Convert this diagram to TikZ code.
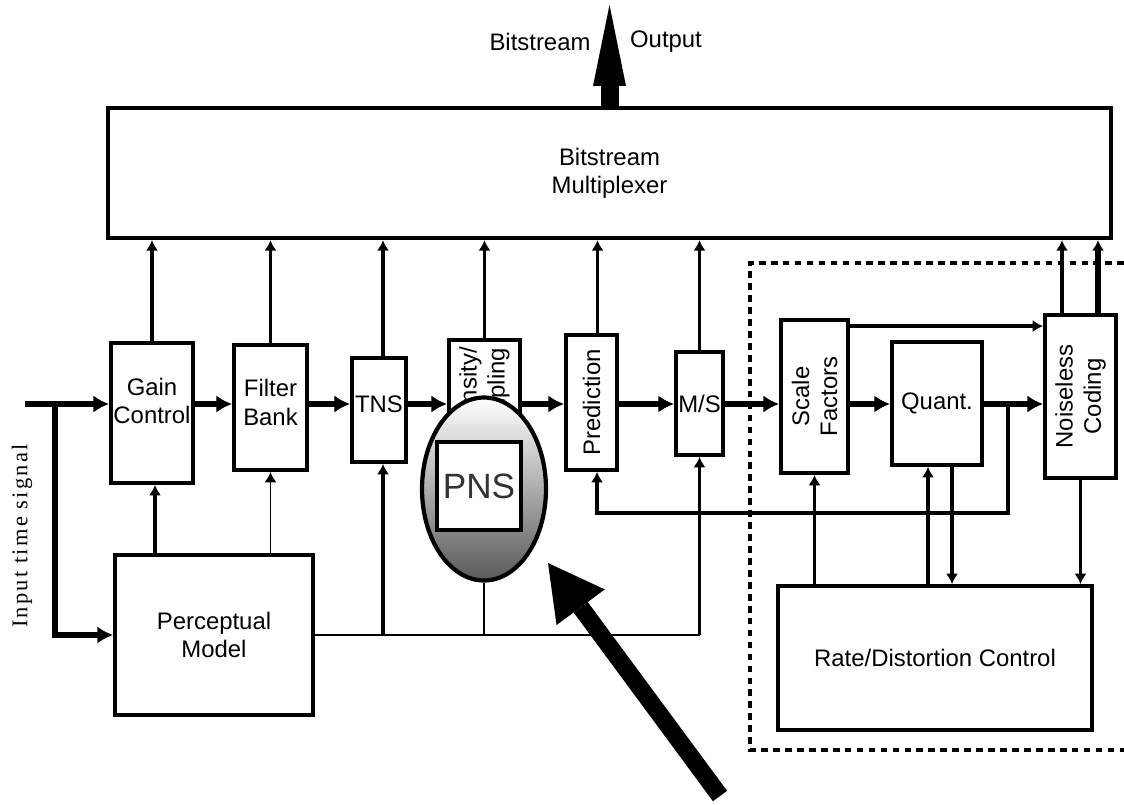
\documentclass[tikz,border=0pt]{standalone}
\usepackage{fontspec}
\setmainfont{Liberation Sans}
\newfontfamily\serifschrift[LetterSpace=10]{Liberation Serif}
\usetikzlibrary{arrows.meta,shapes.geometric}

\begin{document}
\begin{tikzpicture}[
		x=0.02cm, y=-0.02cm,
		font=\fontsize{13.6}{16}\selectfont,
		blk/.style={draw, line width=2.2pt, inner sep=0pt, align=center, fill=white},
		sig/.style={-{Latex[length=9pt,width=10pt]}, line width=3.6pt},
		arr/.style={-{Latex[length=6pt,width=7pt]}, line width=2pt},
		fine/.style={line width=1pt},
	]
		\useasboundingbox (0,0) rectangle (1124,804);

		% Rahmen Quantisierung/Codierung
		\draw[line width=2.8pt, dash pattern=on 3.8pt off 3pt] (1124,263) -- (750,263) -- (750,750) -- (1124,750);

		% Multiplexer mit Ausgang
		\node[blk, line width=2.5pt, minimum width=20.06cm, minimum height=2.6cm] (mux) at (609.5,173)
			{Bitstream\\Multiplexer};
		\coordinate (out) at (609.5,5);
		\draw[line width=0.36cm, -{Triangle[length=1.62cm,width=0.66cm,line width=0pt]}] (mux.north) -- (out);
		\node (bsl) at (540,42) {Bitstream};
		\node (outl) at (666,42) {Output};

		% Verarbeitungsbloecke
		\node[blk, minimum width=1.64cm, minimum height=2.8cm,
			label={[align=center, yshift=0.24cm]center:Gain\\Control}] (gain) at (152,413) {};
		\node[blk, minimum width=1.46cm, minimum height=2.5cm,
			label={[align=center, yshift=0.1cm]center:Filter\\Bank}] (filt) at (270.5,407.5) {};
		\node[blk, minimum width=1.08cm, minimum height=2.08cm,
			label={[yshift=0.12cm]center:TNS}] (tns) at (379,410) {};
		\node[blk, minimum width=1.42cm, minimum height=2.4cm] (ic) at (484.5,400) {};
		\node[rotate=90, anchor=east, align=center] (icl) at ([yshift=-0.06cm]ic.north) {Intensity/\\Coupling};
		\node[blk, minimum width=1.02cm, minimum height=2.7cm,
			label={[rotate=90]center:Prediction}] (pred) at (591.5,402.5) {};
		\node[blk, minimum width=0.94cm, minimum height=2.06cm] (ms) at (699.5,403.5) {M/S};
		\node[blk, minimum width=1.34cm, minimum height=3.06cm,
			label={[rotate=90, align=center]center:Scale\\Factors}] (sf) at (814.5,396.5) {};
		\node[blk, minimum width=1.8cm, minimum height=2.46cm] (quant) at (937,403.5) {Quant.};
		\node[blk, minimum width=1.42cm, minimum height=3.26cm,
			label={[rotate=90, align=center]center:Noiseless\\Coding}] (nc) at (1080.5,396.5) {};
		\node[blk, minimum width=6.28cm, minimum height=2.88cm] (rd) at (935,658) {Rate/Distortion Control};
		\node[blk, minimum width=3.96cm, minimum height=3.2cm] (pm) at (214,635) {Perceptual\\Model};

		% PNS hervorgehoben
		\node[ellipse, draw, line width=2.4pt, inner sep=0pt, minimum width=2.48cm, minimum height=3.66cm,
			top color=white, bottom color=black!65] (pns) at (484,489) {};
		\node[blk, line width=2pt, minimum width=1.68cm, minimum height=1.76cm,
			font=\fontsize{20}{23}\selectfont, text=black!80] (pnsbox) at (479,486) {PNS};

		% Signalweg
		\coordinate (in) at (25,404);
		\coordinate (split) at (55,404);
		\draw[sig] (in) -- (gain.west |- in);
		\draw[sig] (split) |- (pm.west);
		\draw[sig] (gain.east |- in) -- (filt.west |- in);
		\draw[sig] (filt.east |- in) -- (tns.west |- in);
		\draw[sig] (tns.east |- in) -- (ic.west |- in);
		\draw[sig] (ic.east |- in) -- (pred.west |- in);
		\draw[sig] (pred.east |- in) -- (ms.west |- in);
		\draw[sig] (ms.east |- in) -- (sf.west |- in);
		\draw[sig] (sf.east |- in) -- (quant.west |- in);
		\draw[sig] (quant.east |- in) -- (nc.west |- in);

		% Seiteninformation zum Multiplexer
		\draw[arr] (gain.north) -- (gain.north |- mux.south);
		\draw[arr] (filt.north) -- (filt.north |- mux.south);
		\draw[arr] ([xshift=0.08cm]tns.north) -- ([xshift=0.08cm]tns.north |- mux.south);
		\draw[arr] (ic.north) -- (ic.north |- mux.south);
		\draw[arr] ([xshift=0.12cm]pred.north) -- ([xshift=0.12cm]pred.north |- mux.south);
		\draw[arr] (ms.north) -- (ms.north |- mux.south);
		\draw[arr] ([xshift=-0.37cm]nc.north) -- ([xshift=-0.37cm]nc.north |- mux.south);
		\draw[arr, line width=3.5pt] ([xshift=0.35cm]nc.north) -- ([xshift=0.35cm]nc.north |- mux.south);
		\draw[arr] ([yshift=-0.16cm]sf.north east) -- ([yshift=-0.16cm]sf.north east -| nc.west);

		% Psychoakustisches Modell
		\draw[arr, line width=2.4pt] ([xshift=0.06cm]gain.south |- pm.north) -- ([xshift=0.06cm]gain.south);
		\draw[arr, fine] (filt.south |- pm.north) -- (filt.south);
		\draw[fine] (pm.east) -- (ms.south |- pm.east);
		\draw[arr] ([xshift=0.08cm]tns.south |- pm.east) -- ([xshift=0.08cm]tns.south);
		\draw[fine] (pns.south |- pm.east) -- (pns.south);
		\draw[arr] (ms.south |- pm.east) -- (ms.south);

		% Rueckfuehrung und Ratensteuerung
		\coordinate (fb) at (1008,513);
		\draw[arr, line width=2.2pt] (fb |- in) -- (fb) -| ([xshift=0.11cm]pred.south);
		\draw[arr, line width=2.2pt] (sf.south |- rd.north) -- (sf.south);
		\draw[arr, line width=2.2pt] ([xshift=-0.18cm]quant.south |- rd.north) -- ([xshift=-0.18cm]quant.south);
		\draw[arr, line width=2.2pt] ([xshift=0.3cm]quant.south) -- ([xshift=0.3cm]quant.south |- rd.north);
		\draw[arr, line width=2.2pt] (nc.south) -- (nc.south |- rd.north);

		% Hinweispfeil auf PNS
		\coordinate (zeig) at (720,796);
		\coordinate (spitze) at (548,563);
		\draw[line width=10pt, -{Triangle[length=1.1cm,width=1.2cm,line width=0pt]}] (zeig) -- (spitze);

		% Eingang
		\node[rotate=90, font=\serifschrift\fontsize{12.8}{15}\selectfont] (insig) at (22,536) {Input time signal};
	\end{tikzpicture}
\end{document}
